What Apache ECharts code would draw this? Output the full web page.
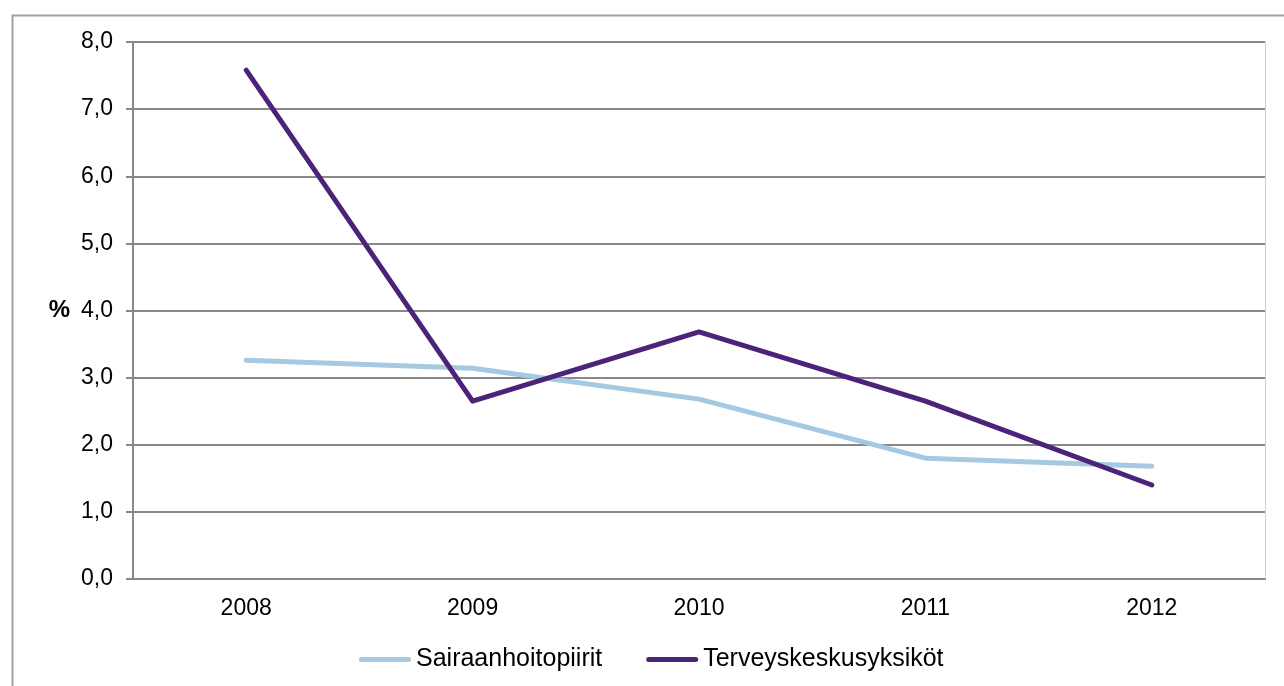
<!DOCTYPE html>
<html>
<head>
<meta charset="utf-8">
<script src="https://cdn.jsdelivr.net/npm/echarts@6/dist/echarts.min.js"></script>
<style>
    html, body {margin: 0; padding: 0; background: #fff;}
    #chart {width: 1284px; height: 686px;}
</style>
</head>
<body>
<div id="chart"></div>
<script>
    var years = ['2008', '2009', '2010', '2011', '2012'];
    var sairaanhoitopiirit = [3.26, 3.14, 2.68, 1.80, 1.68];
    var terveyskeskusyksikot = [7.58, 2.65, 3.68, 2.65, 1.40];

    var chart = echarts.init(document.getElementById('chart'));
    var fontFamily = 'Liberation Sans, Arial, sans-serif';
    var labelFont = {color: '#000', fontSize: 23, fontFamily: fontFamily};
    // rounded bar used as legend icon
    var legendIcon = 'path://M2.5,0 H49.5 A2.5,2.5 0 0 1 49.5,5 H2.5 A2.5,2.5 0 0 1 2.5,0 Z';

    var option = {
        animation: false,
        backgroundColor: '#fff',
        graphic: [{
            type: 'rect',
            left: 10, top: 13,
            shape: {width: 1320, height: 720},
            style: {fill: 'none', stroke: '#a0a0a0', lineWidth: 2}
        }],
        grid: {left: 133, right: 19, top: 42, bottom: 107},
        legend: {
            left: 354,
            bottom: 9,
            icon: legendIcon,
            itemWidth: 52,
            itemHeight: 5,
            itemGap: 44,
            textStyle: {color: '#000', fontSize: 25, fontFamily: fontFamily},
            data: ['Sairaanhoitopiirit', 'Terveyskeskusyksiköt']
        },
        xAxis: {
            type: 'category',
            data: years,
            axisLine: {lineStyle: {color: '#888', width: 2}},
            axisTick: {length: 7, lineStyle: {color: '#888', width: 2}},
            axisLabel: Object.assign({margin: 18}, labelFont)
        },
        yAxis: [{
            type: 'value',
            min: 0, max: 8, interval: 1,
            name: '%',
            nameLocation: 'middle',
            nameRotate: 0,
            nameGap: 63,
            nameTextStyle: {color: '#000', fontSize: 24, fontWeight: 'bold', fontFamily: fontFamily, padding: [6, 0, 0, 0]},
            axisLine: {show: true, lineStyle: {color: '#888', width: 2}},
            axisTick: {show: true, length: 7, lineStyle: {color: '#888', width: 2}},
            splitLine: {lineStyle: {color: '#888', width: 2}},
            axisLabel: Object.assign({
                margin: 20,
                padding: [3, 0, 0, 0],
                formatter: function (v) { return v.toFixed(1).replace('.', ','); }
            }, labelFont)
        }, {
            type: 'value',
            position: 'right',
            min: 0, max: 8, interval: 1,
            axisLine: {show: true, lineStyle: {color: '#d0d0d0', width: 1}},
            axisTick: {show: false},
            axisLabel: {show: false},
            splitLine: {show: false}
        }],
        series: [
            {
                name: 'Sairaanhoitopiirit',
                type: 'line',
                symbol: 'none',
                data: sairaanhoitopiirit,
                color: '#a6c9e2',
                lineStyle: {width: 5, cap: 'round', join: 'round'}
            },
            {
                name: 'Terveyskeskusyksiköt',
                type: 'line',
                symbol: 'none',
                data: terveyskeskusyksikot,
                color: '#4b2479',
                lineStyle: {width: 5, cap: 'round', join: 'round'}
            }
        ]
    };
    chart.setOption(option);
</script>
</body>
</html>
